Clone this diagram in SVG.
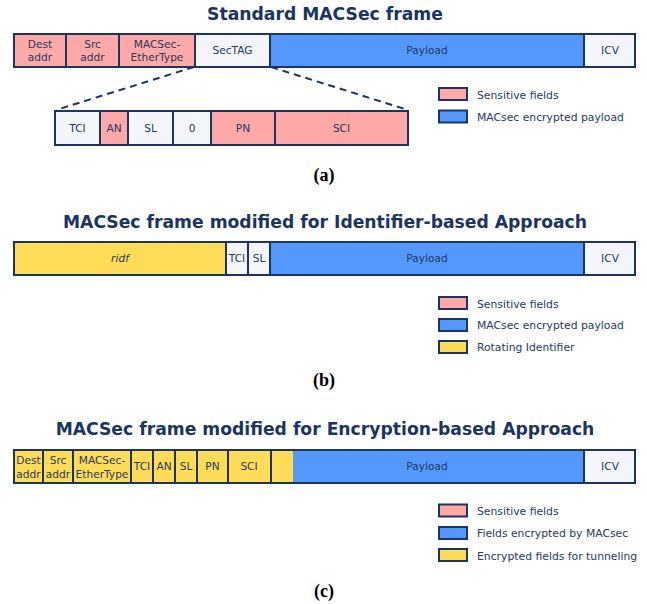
<svg xmlns="http://www.w3.org/2000/svg" width="647" height="604" viewBox="0 0 647 604">
  <style>
    .box { stroke: #1b3461; stroke-width: 2; }
    .sens { fill: #ffa8a8; }
    .enc { fill: #5498fb; }
    .rot { fill: #ffdc57; }
    .plain { fill: #f3f5f8; }
    .lbl { font-family: "DejaVu Sans", sans-serif; font-size: 10.6px; fill: #27395f; text-anchor: middle; }
    .leg { font-family: "DejaVu Sans", sans-serif; font-size: 10.8px; fill: #27395f; }
    .title { font-family: "DejaVu Sans", sans-serif; font-weight: bold; font-size: 17.2px; fill: #1b3461; text-anchor: middle; }
    .cap { font-family: "Liberation Serif", serif; font-weight: bold; font-size: 18px; fill: #000; text-anchor: middle; }
    .dash { stroke: #1b3461; stroke-width: 2; stroke-dasharray: 7 5; fill: none; }
  </style>

  <!-- (a) Standard MACSec frame -->
  <g id="panel-a">
    <text class="title" x="325" y="20">Standard MACSec frame</text>
    <g id="a-dest"><rect class="box sens" x="14" y="34" width="52" height="33"/><text class="lbl" x="40" y="47.5">Dest</text><text class="lbl" x="40" y="61">addr</text></g>
    <g id="a-src"><rect class="box sens" x="66" y="34" width="53" height="33"/><text class="lbl" x="92.5" y="47.5">Src</text><text class="lbl" x="92.5" y="61">addr</text></g>
    <g id="a-ethertype"><rect class="box sens" x="119" y="34" width="76" height="33"/><text class="lbl" x="157" y="47.5">MACSec-</text><text class="lbl" x="157" y="61">EtherType</text></g>
    <g id="a-sectag"><rect class="box plain" x="195" y="34" width="75" height="33"/><text class="lbl" x="232.5" y="54">SecTAG</text></g>
    <g id="a-payload"><rect class="box enc" x="270" y="34" width="314" height="33"/><text class="lbl" x="427" y="54">Payload</text></g>
    <g id="a-icv"><rect class="box plain" x="584" y="34" width="51" height="33"/><text class="lbl" x="610" y="54">ICV</text></g>

    <g id="connectors-a">
      <line class="dash" x1="194" y1="67" x2="56" y2="110"/>
      <line class="dash" x1="271" y1="67" x2="408" y2="110"/>
    </g>

    <g id="a-tci"><rect class="box plain" x="55" y="111" width="45" height="34"/><text class="lbl" x="77.5" y="132">TCI</text></g>
    <g id="a-an"><rect class="box sens" x="100" y="111" width="28" height="34"/><text class="lbl" x="114" y="132">AN</text></g>
    <g id="a-sl"><rect class="box plain" x="128" y="111" width="45" height="34"/><text class="lbl" x="150.5" y="132">SL</text></g>
    <g id="a-zero"><rect class="box plain" x="173" y="111" width="38" height="34"/><text class="lbl" x="192" y="132">0</text></g>
    <g id="a-pn"><rect class="box sens" x="211" y="111" width="64" height="34"/><text class="lbl" x="243" y="132">PN</text></g>
    <g id="a-sci"><rect class="box sens" x="275" y="111" width="133" height="34"/><text class="lbl" x="341.5" y="132">SCI</text></g>

    <g id="a-legend">
      <rect class="box sens" x="439" y="88" width="28" height="12"/><text class="leg" x="477" y="99">Sensitive fields</text>
      <rect class="box enc" x="439" y="110.5" width="28" height="12"/><text class="leg" x="477" y="120.5">MACsec encrypted payload</text>
    </g>
    <text class="cap" x="324" y="181">(a)</text>
  </g>

  <!-- (b) Identifier-based approach -->
  <g id="panel-b">
    <text class="title" x="325" y="228">MACSec frame modified for Identifier-based Approach</text>
    <g id="b-ridf"><rect class="box rot" x="14" y="242" width="212" height="33"/><text class="lbl" x="120" y="262" font-style="italic">ridf</text></g>
    <g id="b-tci"><rect class="box plain" x="226" y="242" width="22" height="33"/><text class="lbl" x="237" y="262">TCI</text></g>
    <g id="b-sl"><rect class="box plain" x="248" y="242" width="22" height="33"/><text class="lbl" x="259" y="262">SL</text></g>
    <g id="b-payload"><rect class="box enc" x="270" y="242" width="314" height="33"/><text class="lbl" x="427" y="262">Payload</text></g>
    <g id="b-icv"><rect class="box plain" x="584" y="242" width="51" height="33"/><text class="lbl" x="610" y="262">ICV</text></g>

    <g id="b-legend">
      <rect class="box sens" x="439" y="297" width="28" height="12"/><text class="leg" x="477" y="307.5">Sensitive fields</text>
      <rect class="box enc" x="439" y="319" width="28" height="12"/><text class="leg" x="477" y="329">MACsec encrypted payload</text>
      <rect class="box rot" x="439" y="341" width="28" height="12"/><text class="leg" x="477" y="351">Rotating Identifier</text>
    </g>
    <text class="cap" x="324" y="386">(b)</text>
  </g>

  <!-- (c) Encryption-based approach -->
  <g id="panel-c">
    <text class="title" x="325" y="435">MACSec frame modified for Encryption-based Approach</text>
    <g id="c-dest"><rect class="box rot" x="14" y="450" width="29" height="33"/><text class="lbl" x="28.5" y="464">Dest</text><text class="lbl" x="28.5" y="477.5">addr</text></g>
    <g id="c-src"><rect class="box rot" x="43" y="450" width="30" height="33"/><text class="lbl" x="58" y="464">Src</text><text class="lbl" x="58" y="477.5">addr</text></g>
    <g id="c-ethertype"><rect class="box rot" x="73" y="450" width="58" height="33"/><text class="lbl" x="102" y="464">MACSec-</text><text class="lbl" x="102" y="477.5">EtherType</text></g>
    <g id="c-tci"><rect class="box rot" x="131" y="450" width="22" height="33"/><text class="lbl" x="142" y="470">TCI</text></g>
    <g id="c-an"><rect class="box rot" x="153" y="450" width="22" height="33"/><text class="lbl" x="164" y="470">AN</text></g>
    <g id="c-sl"><rect class="box rot" x="175" y="450" width="22" height="33"/><text class="lbl" x="186" y="470">SL</text></g>
    <g id="c-pn"><rect class="box rot" x="197" y="450" width="31" height="33"/><text class="lbl" x="212.5" y="470">PN</text></g>
    <g id="c-sci"><rect class="box rot" x="228" y="450" width="43" height="33"/><text class="lbl" x="249" y="470">SCI</text></g>
    <g id="c-payload">
      <rect class="enc" x="271" y="450" width="313" height="33"/>
      <rect class="rot" x="271" y="450" width="22" height="33"/>
      <rect class="box" x="271" y="450" width="313" height="33" fill="none"/>
      <text class="lbl" x="427" y="470">Payload</text>
    </g>
    <g id="c-icv"><rect class="box plain" x="584" y="450" width="51" height="33"/><text class="lbl" x="610" y="470">ICV</text></g>

    <g id="c-legend">
      <rect class="box sens" x="439" y="504.5" width="28" height="12"/><text class="leg" x="477" y="515">Sensitive fields</text>
      <rect class="box enc" x="439" y="527" width="28" height="12"/><text class="leg" x="477" y="537">Fields encrypted by MACsec</text>
      <rect class="box rot" x="439" y="549" width="28" height="12"/><text class="leg" x="477" y="559.5">Encrypted fields for tunneling</text>
    </g>
    <text class="cap" x="324" y="597">(c)</text>
  </g>
</svg>
